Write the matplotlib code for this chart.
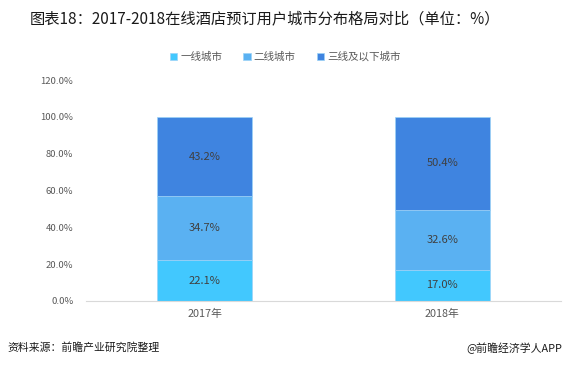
import matplotlib.pyplot as plt
import numpy as np

plt.rcParams['font.family'] = ['Noto Sans CJK SC', 'DejaVu Sans']

years = ['2017年', '2018年']
tier1 = [22.1, 17.0]
tier2 = [34.7, 32.6]
tier3 = [43.2, 50.4]
series_names = ['一线城市', '二线城市', '三线及以下城市']
colors = ['#42C8FE', '#5AB1F2', '#3F84E0']
yticks = [0, 20, 40, 60, 80, 100, 120]

fig = plt.figure(figsize=(5.65, 3.67), dpi=100)
ax = fig.add_axes([0.152, 0.18, 0.841, 0.6015])

x = np.arange(len(years))
bottom = np.zeros(len(years))
handles = []
for vals, name, c in zip([tier1, tier2, tier3], series_names, colors):
    bars = ax.bar(x, vals, width=0.4, bottom=bottom, color=c,
                  edgecolor='#9CD3F7', linewidth=0.5, label=name)
    handles.append(bars)
    for xi, b, v in zip(x, bottom, vals):
        ax.text(xi, b + v / 2, f'{v:.1f}%', ha='center', va='center',
                fontsize=8, color='#404040')
    bottom += np.array(vals)

ax.set_xlim(-0.5, 1.5)
ax.set_ylim(0, 120)
ax.set_yticks(yticks)
ax.set_yticklabels([f'{t:.1f}%' for t in yticks], fontsize=6.8, color='#595959')
ax.set_xticks(x)
ax.set_xticklabels(years, fontsize=7.8, color='#595959')
ax.tick_params(axis='y', length=0, pad=9)
ax.tick_params(axis='x', length=0, pad=6)
for s in ['top', 'right', 'left']:
    ax.spines[s].set_visible(False)
ax.spines['bottom'].set_color('#D9D9D9')

fig.text(0.053, 0.945, '图表18：2017-2018在线酒店预订用户城市分布格局对比（单位：%）',
         fontsize=11, color='#1a1a1a', va='center')
fig.legend(handles=handles, labels=series_names, loc='center', bbox_to_anchor=(0.505, 0.845),
           ncol=3, frameon=False, fontsize=7.6, handlelength=0.7, handleheight=0.7,
           handletextpad=0.3, columnspacing=2.0, labelcolor='#595959')
fig.text(0.014, 0.052, '资料来源：前瞻产业研究院整理', fontsize=7.8,
         color='#1a1a1a', va='center')
fig.text(0.995, 0.052, '@前瞻经济学人APP', fontsize=7.8, color='#1a1a1a',
         va='center', ha='right')

fig.savefig('out.png', dpi=100)
